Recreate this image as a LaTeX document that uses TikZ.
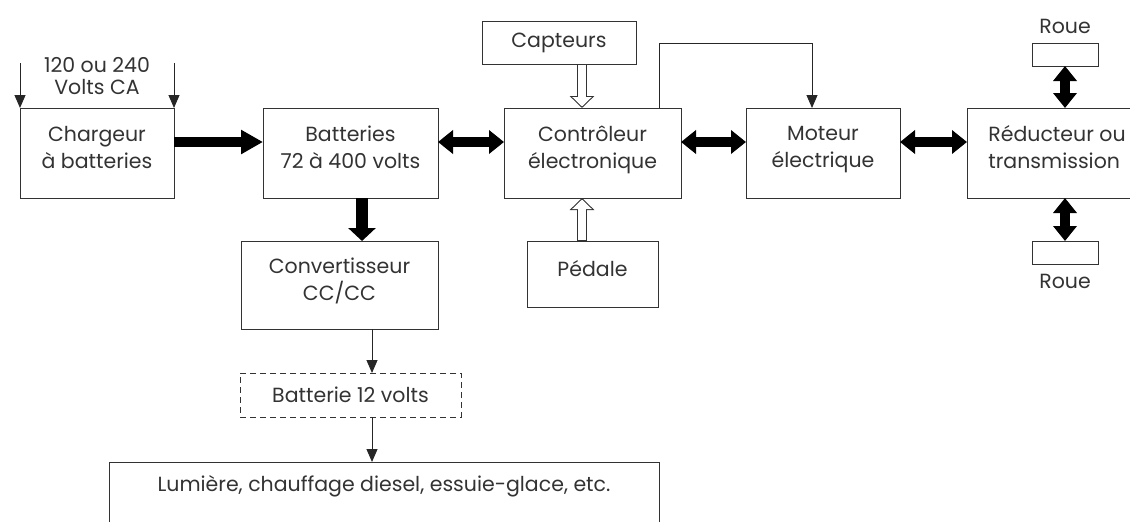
\documentclass[tikz,border=0pt]{standalone}
\usepackage{fontspec}
\setmainfont{Poppins}
\usepackage{tikz}
\usetikzlibrary{positioning, arrows.meta, calc}

\begin{document}
\begin{tikzpicture}[
  x=1pt, y=-1pt,
  font=\fontsize{20.5}{27}\selectfont,
  text=black!80,
  box/.style={draw=black!80, line width=1pt, outer sep=0pt, minimum height=90pt, align=center},
  small/.style={box, minimum height=43pt},
  raised/.style={text depth=12pt},
  bigarrow/.style={draw=black, line width=10pt, -{Triangle[length=22pt, width=23pt]}},
  dblarrow/.style={draw=black, line width=10pt, {Triangle[length=15pt, width=23pt]}-{Triangle[length=15pt, width=23pt]}},
  thinarrow/.style={draw=black!85, line width=1pt, -{Triangle[length=13pt, width=11pt]}},
  hollow/.style={draw=black!80, line width=10pt, -{Triangle[length=12pt, width=24pt]},
    postaction={draw=white, line width=8pt, -{Triangle[length=9.5pt, width=19pt]}, shorten >=1.5pt, shorten <=0.6pt}}
]
  \useasboundingbox (0,0) rectangle (1130,522);
  % ligne principale
  \node[box, raised, minimum width=154pt] (chg) at (97,153) {Chargeur\\à batteries};
  \node[box, raised, minimum width=175pt, right=89pt of chg] (bat) {Batteries\\72 à 400 volts};
  \node[box, raised, minimum width=177pt, right=66pt of bat] (ctl) {Contrôleur\\électronique};
  \node[box, raised, minimum width=154pt, right=65pt of ctl] (mot) {Moteur\\électrique};
  \node[box, raised, minimum width=180pt, right=67pt of mot, align=left] (red) {Réducteur ou\\transmission};
  % entrees du controleur
  \node[small, minimum width=154pt, above=44pt of ctl, xshift=-33.5pt] (cap) {Capteurs};
  \node[box, raised, minimum width=131pt, minimum height=66pt, below=43pt of ctl] (ped) {Pédale};
  % circuit 12 volts
  \node[box, raised, minimum width=197pt, minimum height=88pt, below=43pt of bat, xshift=-11pt] (conv) {Convertisseur\\CC/CC};
  \node[small, minimum width=221pt, minimum height=44pt, dash pattern=on 6pt off 4pt, below=44pt of conv, xshift=11pt] (b12) {Batterie 12 volts};
  \node[box, minimum width=550pt, minimum height=80pt, text depth=38pt, below=45pt of b12, xshift=33.5pt] (load) {Lumière, chauffage diesel, essuie-glace, etc.};
  % roues
  \node[box, minimum width=66pt, minimum height=23pt, above=42pt of red, xshift=8pt] (wtop) {};
  \node[box, minimum width=66pt, minimum height=23pt, below=43pt of red, xshift=8pt] (wbot) {};
  \node[above=6pt of wtop] (wtoplbl) {Roue};
  \node[below=7pt of wbot] (wbotlbl) {Roue};
  % alimentation
  \node[above=10pt of chg, align=center, font=\fontsize{20.5}{22}\selectfont] (ca) {120 ou 240\\Volts CA};
  \coordinate (in1) at ([yshift=45pt]chg.north west);
  \coordinate (in2) at ([yshift=45pt]chg.north east);
  \draw[thinarrow] (in1) -- (chg.north west);
  \draw[thinarrow] (in2) -- (chg.north east);

  \draw[bigarrow] ([yshift=11pt]chg.east) -- ([yshift=11pt]bat.west);
  \draw[dblarrow] ([yshift=11pt]bat.east) -- ([yshift=11pt]ctl.west);
  \draw[dblarrow] ([yshift=11pt]ctl.east) -- ([yshift=11pt]mot.west);
  \draw[dblarrow] ([yshift=11pt]mot.east) -- ([yshift=11pt]red.west);
  \draw[dblarrow] (wtop.south) -- (wtop.south |- red.north);
  \draw[dblarrow] (wbot.north) -- (wbot.north |- red.south);
  \draw[hollow] ([xshift=-10.5pt]ctl.north |- cap.south) -- ([xshift=-10.5pt]ctl.north);
  \draw[hollow] ([xshift=-10.5pt]ctl.south |- ped.north) -- ([xshift=-10.5pt]ctl.south);
  \draw[thinarrow] ([xshift=-22pt]ctl.north east) -- ++(0,-65) -| ([xshift=66pt]mot.north west);
  \draw[draw=black, line width=12pt, -{Triangle[length=13pt, width=27pt]}] ([xshift=11.5pt]bat.south) -- ([xshift=11.5pt]bat.south |- conv.north);
  \draw[thinarrow] ([xshift=32.5pt]conv.south) -- ([xshift=32.5pt]conv.south |- b12.north);
  \draw[thinarrow] ([xshift=21.5pt]b12.south) -- ([xshift=21.5pt]b12.south |- load.north);
\end{tikzpicture}
\end{document}
